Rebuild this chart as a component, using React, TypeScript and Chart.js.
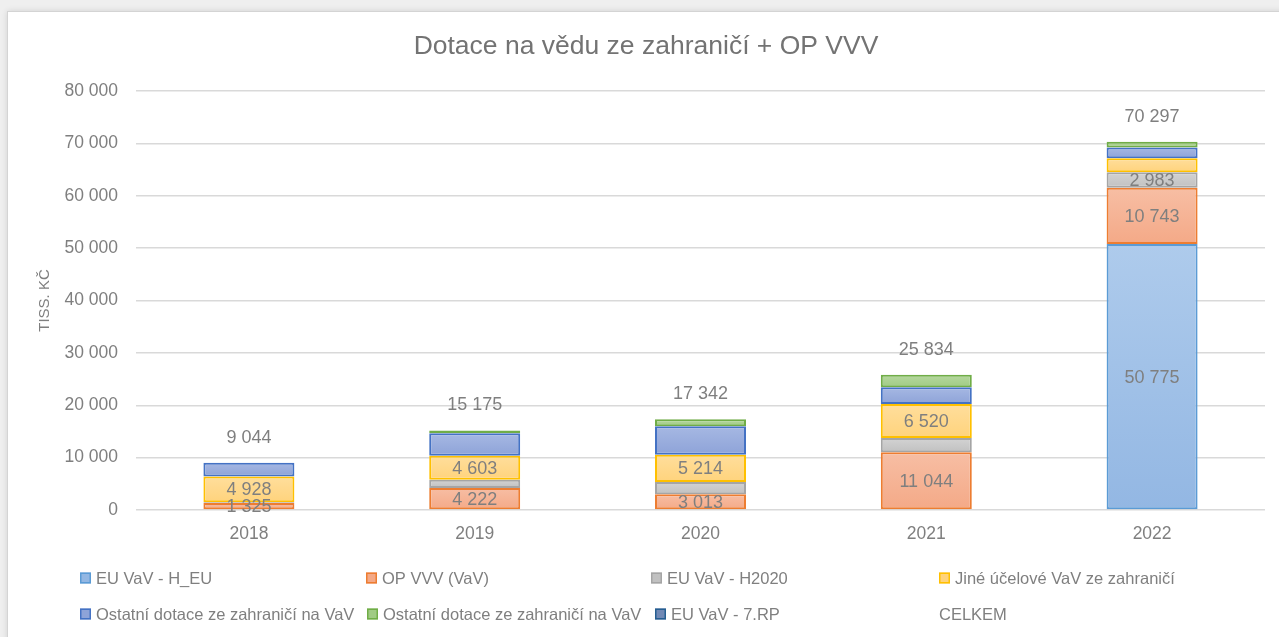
import React, { useEffect, useRef } from "react";
import { Chart, registerables } from "chart.js";

Chart.register(...registerables);

const chartTitle = "Dotace na vědu ze zahraničí + OP VVV";
const yAxisTitle = "TISS. KČ";
const years = ["2018", "2019", "2020", "2021", "2022"];

const euVavH_EU = [0, 0, 0, 0, 50775];
const opVVV = [1325, 4222, 3013, 11044, 10743];
const euVavH2020 = [150, 1550, 2330, 2680, 2983];
const jineUcelove = [4928, 4603, 5214, 6520, 2650];
const ostatniModre = [2641, 4260, 5430, 3180, 2085];
const ostatniZelene = [0, 540, 1355, 2410, 1061];
const euVav7RP = [0, 0, 0, 0, 0];
const celkem = [9044, 15175, 17342, 25834, 70297];

const showH_EU = [false, false, false, false, true];
const showOP = [true, true, true, true, true];
const showH2020 = [false, false, false, false, true];
const showJine = [true, true, true, true, false];

const yTicks = [0, 10000, 20000, 30000, 40000, 50000, 60000, 70000, 80000];

const FONT = "'Liberation Sans', Arial, sans-serif";

const fmt = (n: number) => String(Math.round(n)).replace(/\B(?=(\d{3})+(?!\d))/g, " ");
const nz = (arr: number[]) => arr.map((v) => (v === 0 ? null : v));

const titlePlugin = {
  id: "fixedTitle",
  afterDraw(chart: any) {
    const ctx = chart.ctx;
    ctx.save();
    ctx.font = `26.5px ${FONT}`;
    ctx.fillStyle = "#737373";
    ctx.textAlign = "center";
    ctx.textBaseline = "middle";
    ctx.fillText(chartTitle, 638, 35);
    ctx.restore();
  },
};

const labelPlugin = {
  id: "valueLabels",
  afterDatasetsDraw(chart: any) {
    const ctx = chart.ctx;
    ctx.save();
    ctx.font = `18px ${FONT}`;
    ctx.fillStyle = "#7F7F7F";
    ctx.textAlign = "center";
    ctx.textBaseline = "middle";
    chart.data.datasets.forEach((ds: any, i: number) => {
      const meta = chart.getDatasetMeta(i);
      if (ds.type === "line") {
        meta.data.forEach((pt: any, j: number) => {
          ctx.fillText(fmt(ds.data[j]), pt.x, pt.y - 25);
        });
      } else if (ds.showLabels) {
        meta.data.forEach((bar: any, j: number) => {
          if (!ds.showLabels[j] || ds.data[j] == null) return;
          ctx.fillText(fmt(ds.data[j]), bar.x, (bar.y + bar.base) / 2 + 1);
        });
      }
    });
    ctx.restore();
  },
};

const legendPlugin = {
  id: "gridLegend",
  afterDraw(chart: any) {
    const ctx = chart.ctx;
    const pos = [
      [72, 566],
      [358, 566],
      [643, 566],
      [931, 566],
      [72, 602],
      [359, 602],
      [647, 602],
      [931, 602],
    ];
    ctx.save();
    ctx.font = `16.5px ${FONT}`;
    ctx.textBaseline = "middle";
    ctx.textAlign = "left";
    chart.data.datasets.forEach((ds: any, i: number) => {
      const [x, y] = pos[i];
      let tx = x;
      if (ds.type !== "line") {
        ctx.fillStyle = ds.legendFill;
        ctx.fillRect(x, y - 5.5, 11, 11);
        ctx.strokeStyle = ds.borderColor;
        ctx.lineWidth = 1.5;
        ctx.strokeRect(x + 0.75, y - 4.75, 9.5, 9.5);
        tx = x + 16;
      }
      ctx.fillStyle = "#7F7F7F";
      ctx.fillText(ds.label, tx, y + 1);
    });
    ctx.restore();
  },
};

export default function App() {
  const ref = useRef<HTMLCanvasElement>(null);

  useEffect(() => {
    document.body.style.margin = "0";
    document.body.style.background = "#EFEFEF";

    const gradientFill = (top: string, bottom: string) => (c: any) => {
      const chart = c.chart;
      const yScale = chart.scales && chart.scales.y;
      if (c.type !== "data" || !yScale || !chart.chartArea) return bottom;
      const di = c.datasetIndex;
      const i = c.dataIndex;
      let start = 0;
      for (let k = 0; k < di; k++) {
        const d = chart.data.datasets[k];
        if (d.type === "bar") start += d.data[i] || 0;
      }
      const v = chart.data.datasets[di].data[i] || 0;
      const y0 = yScale.getPixelForValue(start);
      const y1 = yScale.getPixelForValue(start + v);
      if (!isFinite(y0) || !isFinite(y1) || y0 === y1) return bottom;
      const g = chart.ctx.createLinearGradient(0, y1, 0, y0);
      g.addColorStop(0, top);
      g.addColorStop(1, bottom);
      return g;
    };

    const bar = (
      label: string,
      data: number[],
      top: string,
      bottom: string,
      border: string,
      show?: boolean[]
    ) => ({
      type: "bar" as const,
      label,
      data: nz(data),
      backgroundColor: gradientFill(top, bottom),
      legendFill: bottom,
      borderColor: border,
      borderWidth: 2,
      borderSkipped: false,
      showLabels: show,
    });

    const chart = new Chart(ref.current!, {
      type: "bar",
      data: {
        labels: years,
        datasets: [
          bar("EU VaV - H_EU", euVavH_EU, "#AECBEC", "#93B7E3", "#5B9BD5", showH_EU),
          bar("OP VVV (VaV)", opVVV, "#F7BEA4", "#F4A987", "#ED7D31", showOP),
          bar("EU VaV - H2020", euVavH2020, "#D3D3D3", "#C1C1C1", "#A5A5A5", showH2020),
          bar("Jiné účelové VaV ze zahraničí", jineUcelove, "#FFDE9C", "#FFD37C", "#FFC000", showJine),
          bar("Ostatní dotace ze zahraničí na VaV", ostatniModre, "#A6B8E3", "#8EA3D8", "#4472C4"),
          bar("Ostatní dotace ze zahraničí na VaV", ostatniZelene, "#B6D89F", "#A0CB84", "#70AD47"),
          bar("EU VaV - 7.RP", euVav7RP, "#8DA2C8", "#7189B5", "#255E91"),
          {
            type: "line" as const,
            label: "CELKEM",
            data: celkem,
            showLine: false,
            pointRadius: 0,
            borderColor: "rgba(0,0,0,0)",
            backgroundColor: "rgba(0,0,0,0)",
          } as any,
        ] as any,
      },
      options: {
        responsive: false,
        animation: false,
        layout: { padding: { top: 79, bottom: 88, left: 0, right: 15 } },
        datasets: { bar: { barPercentage: 0.403, categoryPercentage: 1 } },
        plugins: {
          legend: { display: false },
          title: { display: false },
          tooltip: { enabled: false },
        },
        scales: {
          x: {
            stacked: true,
            grid: { display: false, drawTicks: false },
            border: { display: false },
            ticks: { color: "#7F7F7F", font: { family: FONT, size: 17.5 }, padding: 14 },
            afterFit: (s: any) => {
              s.height = 40;
            },
          },
          y: {
            stacked: true,
            min: 0,
            max: 80000,
            afterBuildTicks: (s: any) => {
              s.ticks = yTicks.map((v) => ({ value: v }));
            },
            grid: { color: "#D9D9D9", lineWidth: 1.5, drawTicks: false },
            border: { display: false },
            ticks: {
              color: "#7F7F7F",
              font: { family: FONT, size: 17.5 },
              padding: 18,
              callback: (v: any) => fmt(Number(v)),
            },
            title: {
              display: true,
              text: yAxisTitle,
              color: "#7F7F7F",
              font: { family: FONT, size: 15 },
              padding: { top: 28, bottom: 0 },
            },
            afterFit: (s: any) => {
              s.width = 128;
            },
          },
        },
      } as any,
      plugins: [titlePlugin, labelPlugin, legendPlugin],
    });
    return () => chart.destroy();
  }, []);

  return (
    <div
      style={{
        position: "absolute",
        left: 7,
        top: 11,
        width: 1290,
        height: 640,
        background: "#FFFFFF",
        border: "1px solid #D4D4D4",
        boxShadow: "0 0 6px rgba(0,0,0,0.12)",
        overflow: "hidden",
      }}
    >
      <canvas ref={ref} width={1272} height={626} style={{ display: "block" }} />
    </div>
  );
}
